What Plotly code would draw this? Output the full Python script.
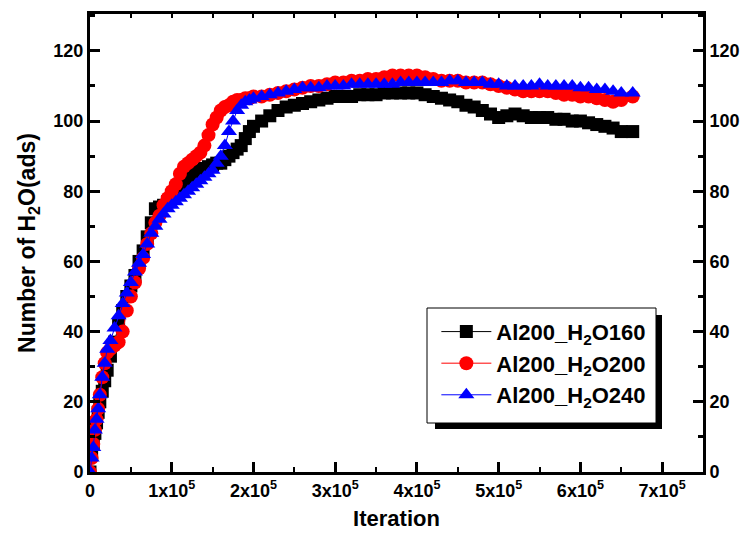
import plotly.graph_objects as go

# iteration (thousands)
iters_k = [0, 2, 4, 6, 8, 10, 12, 15, 18, 21, 25, 30, 35, 40, 45, 50, 55, 60, 65, 70,
           75, 80, 85, 90, 95, 100, 105, 110, 115, 120, 125, 130, 135, 140, 145, 150,
           155, 160, 165, 170, 175, 180, 185, 190, 195, 200, 210, 220, 230, 240, 250,
           260, 270, 280, 290, 300, 310, 320, 330, 340, 350, 360, 370, 380, 390, 400,
           410, 420, 430, 440, 450, 460, 470, 480, 490, 500, 510, 520, 530, 540, 550,
           560, 570, 580, 590, 600, 610, 620, 630, 640, 650, 664]

h2o160 = [0, 5, 8, 11, 14, 17, 20, 23, 26, 29, 33, 37, 42, 46, 50, 53, 56, 60, 63, 67,
          71, 75, 75.5, 76, 77, 78, 80, 82, 83, 84, 85, 86, 86, 86.5, 87, 87.5,
          88, 88, 89, 90, 91, 92, 93, 95, 97, 98.5, 100, 101.5, 103, 104, 104.5,
          105, 105.5, 106, 106.5, 107, 107, 107, 107.5, 107.5, 107.5, 108, 108, 108, 108, 108,
          107.5, 107, 106.5, 106, 105.5, 104.5, 104, 103, 102, 101, 101.5, 102, 101.5, 101, 101,
          101, 100.5, 100.5, 100, 100, 99.5, 99, 98.5, 98, 97, 97]

h2o200 = [0, 4, 8, 12, 15, 18, 22, 27, 31, 34, 35, 36, 37, 40, 46, 50, 54, 58, 61, 65,
          68, 71, 73, 76, 78, 80, 82, 85, 87, 88, 89, 90, 91, 93, 96, 99,
          101, 103, 104, 104.5, 105.5, 106, 106, 106.5, 106.5, 107, 107, 107.5, 108, 108.5, 109,
          109.5, 110, 110, 110.5, 111, 111, 111.5, 111.5, 112, 112, 112.5, 113, 113, 113, 113,
          112.5, 112, 111.5, 111.5, 111.5, 111, 111, 111, 110.5, 110, 109.5, 109, 108.5, 108.5, 108.5,
          108.5, 108, 107.5, 107.5, 107, 107, 106.5, 106, 105.5, 106, 107]

h2o240 = [0, 4, 7, 12, 15, 18, 22, 27, 31, 35, 37.5, 41, 44.5, 48, 51, 54, 57, 59.5, 62, 65,
          68, 70, 72, 73.5, 75, 76, 77, 78, 79, 80, 81, 82, 83, 84, 85, 86,
          88, 90, 93, 97, 100, 103, 104.5, 105.5, 106, 106.5, 107, 107.5, 108, 108.5, 109,
          109.5, 109.5, 109.5, 110, 110, 110, 110.5, 110.5, 110.5, 110.5, 110.5, 110.5, 111, 111, 111,
          111, 111, 111, 111.5, 111.5, 111, 111, 111, 110.5, 110.5, 110, 110, 110, 110, 110.5,
          110, 110, 110, 110, 109.5, 109.5, 109, 109, 108.5, 108, 108]

series_names = ["Al200_H<sub>2</sub>O160", "Al200_H<sub>2</sub>O200", "Al200_H<sub>2</sub>O240"]
series_colors = ["#000000", "#ff0000", "#0000ff"]
series_symbols = ["square", "circle", "triangle-up"]
series_sizes = [13, 14, 14]

x_tick_vals = [0, 1e5, 2e5, 3e5, 4e5, 5e5, 6e5, 7e5]
x_tick_text = ["0"] + [f"{i}x10<sup>5</sup>" for i in range(1, 8)]
y_tick_vals = [0, 20, 40, 60, 80, 100, 120]

iters = [v * 1000 for v in iters_k]

FONT = "Liberation Sans, Arial, sans-serif"

fig = go.Figure()
for name, ys, col, sym, sz in zip(series_names, [h2o160, h2o200, h2o240],
                                   series_colors, series_symbols, series_sizes):
    fig.add_trace(go.Scatter(
        x=iters, y=ys, name=name, mode="lines+markers",
        line=dict(color=col, width=1),
        marker=dict(symbol=sym, size=sz, color=col, line=dict(width=0)),
        xaxis="x", yaxis="y",
    ))

# invisible trace to activate top / right axes
fig.add_trace(go.Scatter(x=[None], y=[None], xaxis="x2", yaxis="y2", showlegend=False))

xr = [0, 7.5e5]
yr = [0, 130.5]
tickfont = dict(family=FONT, size=18, color="black", weight="bold")

fig.update_layout(
    width=751, height=544,
    margin=dict(l=90, r=48, t=14, b=72),
    paper_bgcolor="white", plot_bgcolor="white",
    showlegend=True,
    legend=dict(x=0.565, y=0.352, xanchor="left", yanchor="top",
                bgcolor="rgba(0,0,0,0)", borderwidth=0,
                font=dict(family=FONT, size=22, color="black", weight="bold"),
                itemwidth=50, tracegroupgap=0),
    xaxis=dict(range=xr, tickvals=x_tick_vals, ticktext=x_tick_text,
               ticks="inside", ticklen=10, tickwidth=3, tickcolor="black",
               showline=True, linewidth=3, linecolor="black", showgrid=False, zeroline=False,
               minor=dict(ticks="inside", ticklen=5, tickwidth=2, tickcolor="black", dtick=5e4, showgrid=False),
               tickfont=tickfont,
               title=dict(text="Iteration", font=dict(family=FONT, size=22, color="black", weight="bold"),
                          standoff=12)),
    xaxis2=dict(range=xr, overlaying="x", side="top", tickvals=x_tick_vals, showticklabels=False,
                ticks="inside", ticklen=4, tickwidth=2, tickcolor="black",
                showline=True, linewidth=3, linecolor="black", showgrid=False, zeroline=False,
                minor=dict(ticks="inside", ticklen=4, tickwidth=2, tickcolor="black", dtick=5e4, showgrid=False)),
    yaxis=dict(range=yr, tickvals=y_tick_vals,
               ticks="inside", ticklen=10, tickwidth=3, tickcolor="black",
               showline=True, linewidth=3, linecolor="black", showgrid=False, zeroline=False,
               minor=dict(ticks="inside", ticklen=5, tickwidth=3, tickcolor="black", dtick=10, showgrid=False),
               tickfont=tickfont,
               title=dict(text="Number of H<sub>2</sub>O(ads)",
                          font=dict(family=FONT, size=23, color="black", weight="bold"), standoff=12)),
    yaxis2=dict(range=yr, overlaying="y", side="right", tickvals=y_tick_vals,
                ticks="inside", ticklen=10, tickwidth=3, tickcolor="black",
                showline=True, linewidth=3, linecolor="black", showgrid=False, zeroline=False,
                minor=dict(ticks="inside", ticklen=5, tickwidth=3, tickcolor="black", dtick=10, showgrid=False),
                tickfont=tickfont),
)

# legend frame with drop shadow (paper coords)
def px2paper(xp, yp):
    return (xp - 90) / 613, (472 - yp) / 458

x0, y0 = px2paper(435, 315)
x1, y1 = px2paper(662, 429)
fig.add_shape(type="rect", xref="paper", yref="paper", x0=x0, y0=y1, x1=x1, y1=y0,
              fillcolor="black", line=dict(width=0), layer="above")
x0, y0 = px2paper(427, 308)
x1, y1 = px2paper(656, 423)
fig.add_shape(type="rect", xref="paper", yref="paper", x0=x0, y0=y1, x1=x1, y1=y0,
              fillcolor="white", line=dict(color="black", width=1), layer="above")

fig.write_html("out.html")
